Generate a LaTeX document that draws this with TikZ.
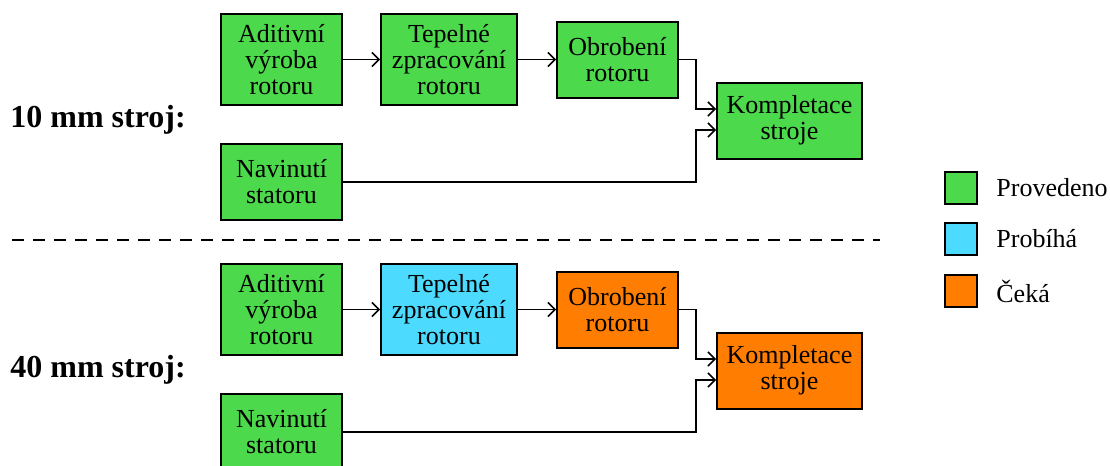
\documentclass[tikz,border=0pt]{standalone}
\usepackage{fontspec}
\setmainfont{Liberation Serif}
\usetikzlibrary{arrows.meta,positioning}
\definecolor{done}{RGB}{76,217,76}
\definecolor{running}{RGB}{77,218,255}
\definecolor{waiting}{RGB}{255,125,0}
\tikzstyle{block} = [rectangle, draw, line width=1pt, fill=done,
    align=center, minimum width=60.5pt, minimum height=38pt,
    font=\fontsize{13}{13}\selectfont]
\tikzstyle{tall} = [minimum height=45.5pt]
\tikzstyle{line} = [draw, line width=0.75pt, -{Straight Barb[length=3.5pt,width=7pt]}]
\tikzstyle{machine} = [font=\fontsize{16}{16}\selectfont\bfseries, anchor=west, inner sep=0pt]
\tikzstyle{legbox} = [rectangle, draw, line width=1pt, minimum size=16pt, inner sep=0pt]
\tikzstyle{legtext} = [font=\fontsize{13}{13}\selectfont, inner sep=0pt]

\begin{document}
\begin{tikzpicture}
    \useasboundingbox (0,0) rectangle (555pt,-233pt);

    % 10 mm stroj
    \node [machine] (lab1) at (5pt,-60pt) {10 mm stroj:};
    \node [block, tall] (add1) at (140.75pt,-29.75pt) {Aditivní\\výroba\\rotoru};
    \node [block, tall, right of=add1, node distance=83.75pt, minimum width=68pt] (tep1) {Tepelné\\zpracování\\rotoru};
    \node [block, right of=tep1, node distance=84.25pt] (obr1) {Obrobení\\rotoru};
    \node [block, below of=add1, node distance=61.25pt] (nav1) {Navinutí\\statoru};
    \node [block, minimum width=72.5pt] (kom1) at (394.75pt,-60.25pt) {Kompletace\\stroje};
    \coordinate (in11) at ([yshift=5.75pt]kom1.west);
    \coordinate (in12) at ([yshift=-4.75pt]kom1.west);

    \path [line] (add1) -- (tep1);
    \path [line] (tep1) -- (obr1);
    \path [line] (obr1.east) -| ([xshift=-10pt]in11) -- (in11);
    \path [line] (nav1.east) -| ([xshift=-10pt]in12) -- (in12);

    % separator
    \coordinate (sepl) at (6pt,-120pt);
    \coordinate (sepr) at (440pt,-120pt);
    \draw [line width=1pt, dash pattern=on 6pt off 4.5pt] (sepl) -- (sepr);

    % 40 mm stroj
    \node [machine] (lab2) at (5pt,-185pt) {40 mm stroj:};
    \node [block, tall] (add2) at (140.75pt,-154.75pt) {Aditivní\\výroba\\rotoru};
    \node [block, tall, right of=add2, node distance=83.75pt, minimum width=68pt, fill=running] (tep2) {Tepelné\\zpracování\\rotoru};
    \node [block, right of=tep2, node distance=84.25pt, fill=waiting] (obr2) {Obrobení\\rotoru};
    \node [block, below of=add2, node distance=61.25pt] (nav2) {Navinutí\\statoru};
    \node [block, minimum width=72.5pt, fill=waiting] (kom2) at (394.75pt,-185.25pt) {Kompletace\\stroje};
    \coordinate (in21) at ([yshift=5.75pt]kom2.west);
    \coordinate (in22) at ([yshift=-4.75pt]kom2.west);

    \path [line] (add2) -- (tep2);
    \path [line] (tep2) -- (obr2);
    \path [line] (obr2.east) -| ([xshift=-10pt]in21) -- (in21);
    \path [line] (nav2.east) -| ([xshift=-10pt]in22) -- (in22);

    % legend
    \node [legbox, fill=done] (lg1) at (480.5pt,-93.75pt) {};
    \node [legbox, fill=running] (lg2) at (480.5pt,-119.5pt) {};
    \node [legbox, fill=waiting] (lg3) at (480.5pt,-145.5pt) {};
    \node [legtext, right=9pt of lg1] (lt1) {Provedeno};
    \node [legtext, right=9pt of lg2] (lt2) {Probíhá};
    \node [legtext, right=9pt of lg3] (lt3) {Čeká};
\end{tikzpicture}
\end{document}
